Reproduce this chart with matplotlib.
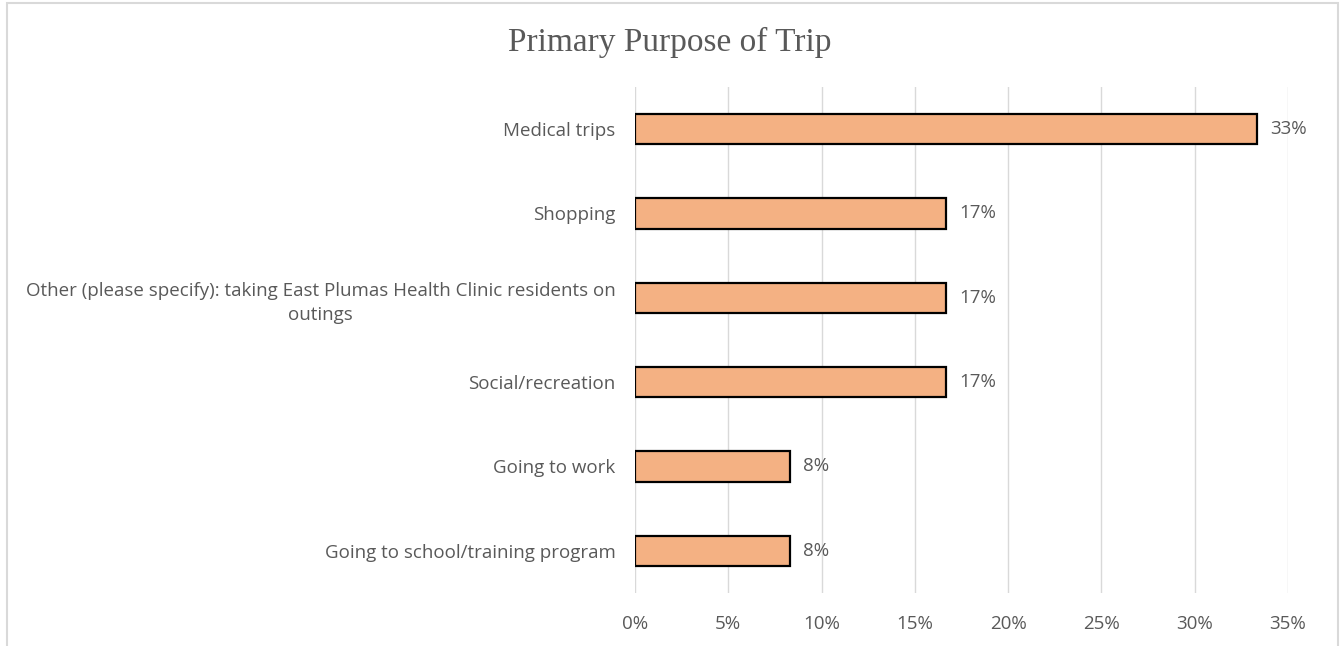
import matplotlib.pyplot as plt
from matplotlib.patches import Rectangle

# survey answers, top to bottom
purposes = [
    "Medical trips",
    "Shopping",
    "Other (please specify): taking East Plumas Health Clinic residents on\noutings",
    "Social/recreation",
    "Going to work",
    "Going to school/training program",
]
shares = [33.33, 16.67, 16.67, 16.67, 8.33, 8.33]
x_ticks = [0, 5, 10, 15, 20, 25, 30, 35]

text_grey = "#595959"
bar_fill = "#F4B183"

fig = plt.figure(figsize=(13.43, 6.46), dpi=100)
ax = fig.add_axes([0.4728, 0.082, 0.4862, 0.7836])

ypos = list(range(len(purposes)))[::-1]
ax.barh(ypos, shares, height=0.36, color=bar_fill, edgecolor="black",
        linewidth=1.6, zorder=3)

for y, v in zip(ypos, shares):
    ax.text(v + 0.7, y, f"{v:.0f}%", va="center", ha="left",
            fontsize=13.5, color=text_grey, family="Open Sans")

ax.set_xlim(0, 35)
ax.set_ylim(-0.5, len(purposes) - 0.5)
ax.set_xticks(x_ticks)
ax.set_xticklabels([f"{t}%" for t in x_ticks])
ax.set_yticks(ypos)
ax.set_yticklabels(purposes, multialignment="center", linespacing=1.45)

for lbl in ax.get_xticklabels() + ax.get_yticklabels():
    lbl.set_family("Open Sans")
    lbl.set_fontsize(13.5)
    lbl.set_color(text_grey)

ax.tick_params(axis="y", length=0, pad=14)
ax.tick_params(axis="x", length=0, pad=16)
ax.grid(axis="x", color="#d9d9d9", linewidth=1, zorder=0)
for s in ax.spines.values():
    s.set_visible(False)

fig.text(0.4989, 0.935, "Primary Purpose of Trip", ha="center", va="center",
         fontsize=24, color=text_grey, family="Liberation Serif")

# light frame round the chart area
fig.add_artist(Rectangle((7 / 1343, -0.02), 1331 / 1343, 1.02 - 3 / 646,
                         transform=fig.transFigure, fill=False,
                         edgecolor="#d9d9d9", linewidth=1.5))

fig.savefig("out.png", dpi=100)
